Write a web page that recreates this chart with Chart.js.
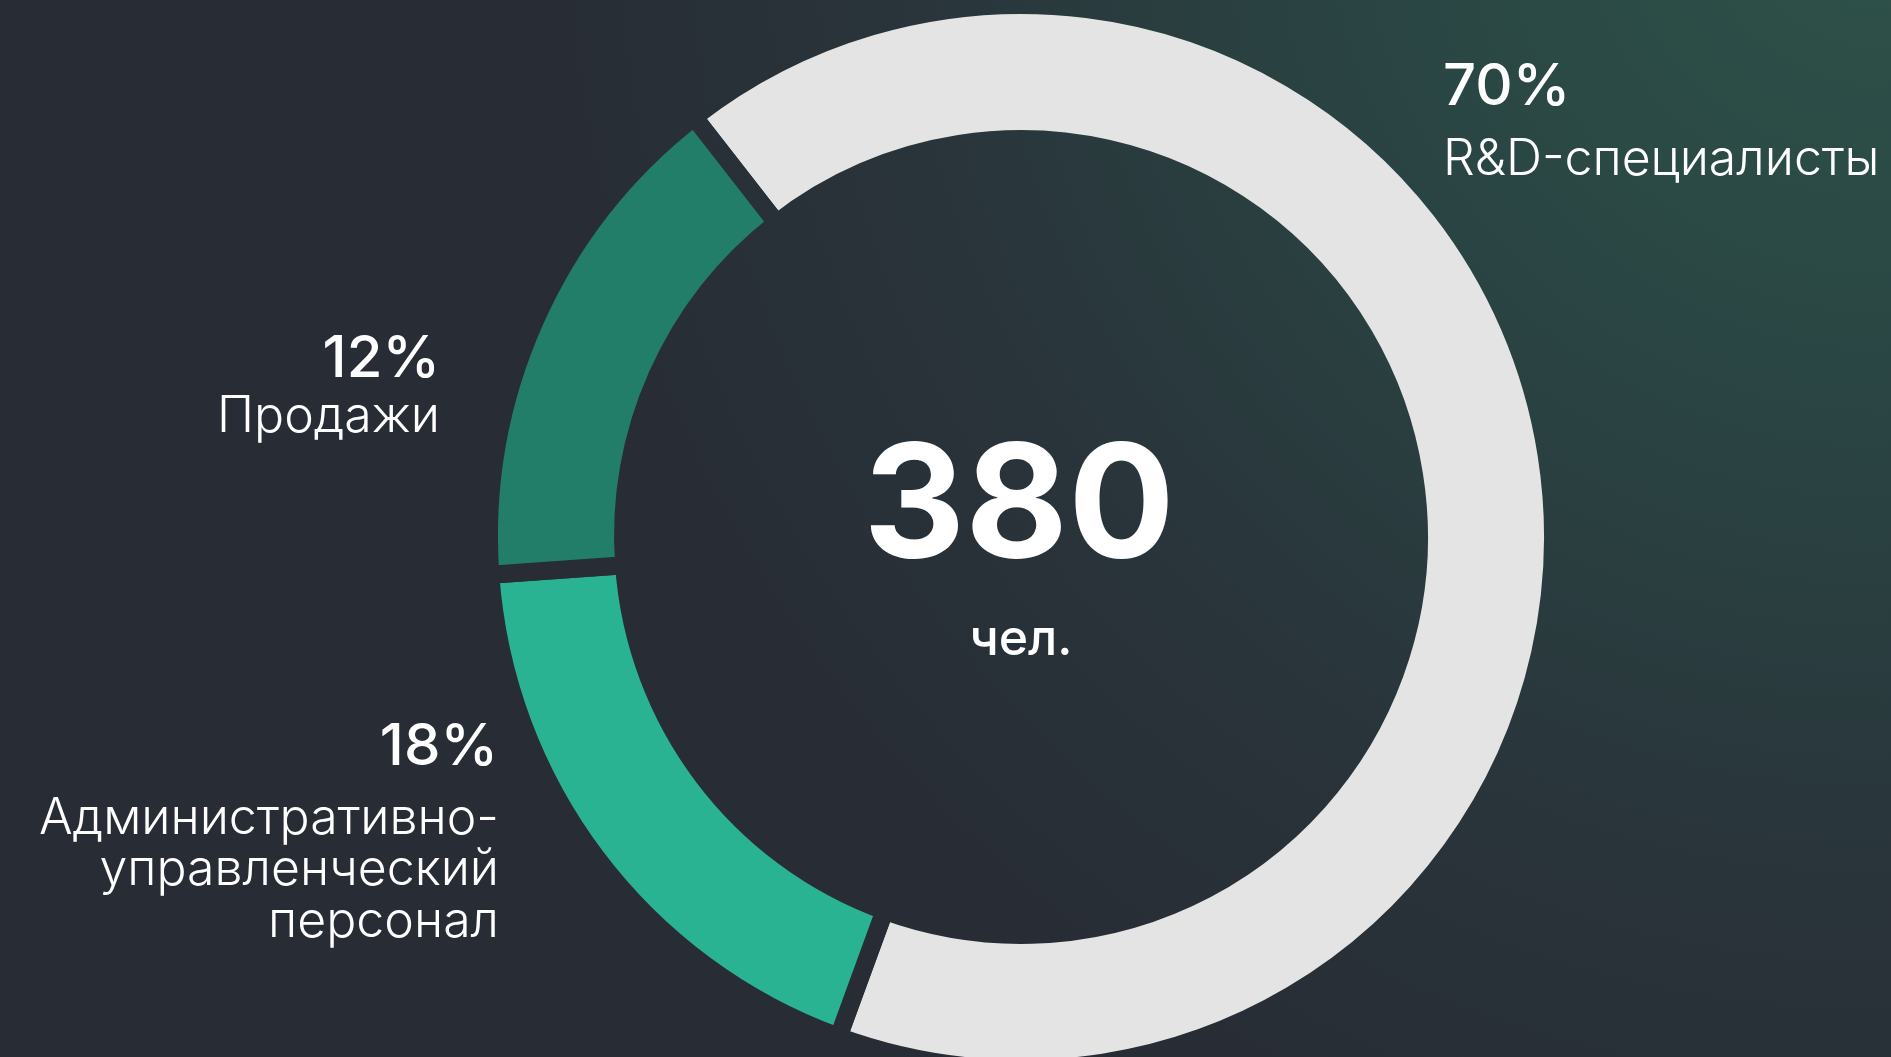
<!DOCTYPE html>
<html><head><meta charset="utf-8">
<script src="https://cdn.jsdelivr.net/npm/chart.js@4.4.0/dist/chart.umd.min.js"></script>
<style>
html,body{margin:0;padding:0;width:1891px;height:1057px;overflow:hidden;background:#282c34;font-family:Inter,"Noto Sans",sans-serif;color:#fff}
#c{position:absolute;left:0;top:0}
.t{position:absolute;white-space:nowrap;color:#fff}
</style></head><body>
<canvas id="c" width="1891" height="1057"></canvas>
<div id="labels"></div>
<script>
// ---- data ----
const categories = ['R&D-специалисты', 'Административно-управленческий персонал', 'Продажи'];
const categoryLines = [['R&D-специалисты'], ['Административно-', 'управленческий', 'персонал'], ['Продажи']];
const shareLabels = ['70%', '18%', '12%'];
const arcShares = [66.1, 18.3, 15.6];   // angular share of each drawn arc
const segmentColors = ['#e4e4e4', '#2ab392', '#227d69'];
const totalValue = '380';
const totalUnit = 'чел.';

function bgFill(c) {
  const g = c.createRadialGradient(1891, -120, 0, 1891, -120, 1400);
  g.addColorStop(0, '#2e5349');
  g.addColorStop(0.35, '#2a4644');
  g.addColorStop(0.72, '#29343a');
  g.addColorStop(1, '#282c34');
  return g;
}
const bgPlugin = {
  id: 'bg',
  beforeDraw(chart) {
    const c = chart.ctx;
    c.save();
    c.fillStyle = bgFill(c);
    c.fillRect(0, 0, chart.width, chart.height);
    c.restore();
  }
};
const ctx = document.getElementById('c').getContext('2d');
new Chart(ctx, {
  type: 'doughnut',
  data: {
    labels: categories,
    datasets: [{
      data: arcShares,
      backgroundColor: segmentColors,
      borderColor: bgFill(ctx),
      borderWidth: 18,
      borderAlign: 'center',
      hoverOffset: 0
    }]
  },
  options: {
    responsive: false,
    animation: false,
    events: [],
    rotation: -37.9,
    radius: 532,
    cutout: '74.8%',
    layout: { padding: { left: 151, right: 0, top: 17, bottom: 0 } },
    plugins: { legend: { display: false }, tooltip: { enabled: false } }
  },
  plugins: [bgPlugin]
});

// ---- text (real DOM text) ----
const holder = document.getElementById('labels');
function place(text, x, baseline, size, weight, align) {
  const d = document.createElement('div');
  d.className = 't';
  d.textContent = text;
  d.style.fontSize = size + 'px';
  d.style.fontWeight = weight;
  d.style.lineHeight = size + 'px';
  d.style.top = (baseline - 0.86375 * size) + 'px';
  if (align === 'left') { d.style.left = x + 'px'; }
  else if (align === 'right') { d.style.right = (1891 - x) + 'px'; d.style.textAlign = 'right'; }
  else { d.style.left = (x - 500) + 'px'; d.style.width = '1000px'; d.style.textAlign = 'center'; }
  holder.appendChild(d);
}
// R&D
place(shareLabels[0], 1443, 105, 58, 500, 'left');
place(categoryLines[0][0], 1443, 175, 50, 300, 'left');
// Sales
place(shareLabels[2], 440, 377, 58, 500, 'right');
place(categoryLines[2][0], 440, 432, 50, 300, 'right');
// Admin
place(shareLabels[1], 498, 765, 58, 500, 'right');
categoryLines[1].forEach((ln, i) => place(ln, 499, 834 + i * 51.5, 50, 300, 'right'));
// centre
place(totalValue, 1019, 557, 158, 700, 'center');
place(totalUnit, 1021, 655, 50, 500, 'center');
</script>
</body></html>
